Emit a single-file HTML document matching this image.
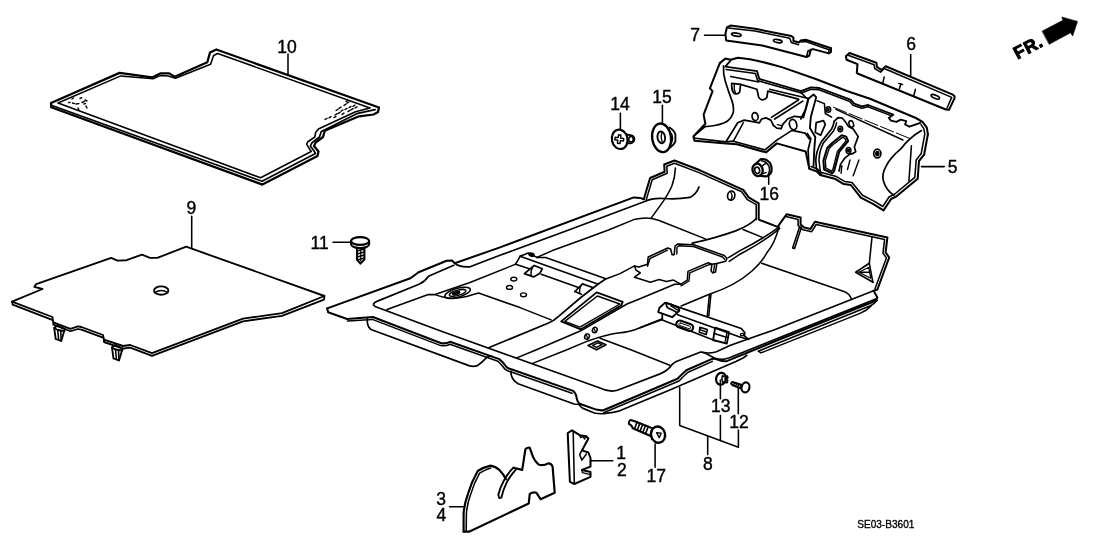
<!DOCTYPE html>
<html lang="en"><head><meta charset="utf-8"><title>SE03-B3601 Floor Mat</title>
<style>
html,body{margin:0;padding:0;background:#fff;}
body{width:1108px;height:553px;overflow:hidden;font-family:"Liberation Sans",sans-serif;}
svg{display:block;will-change:transform;}
svg text{font-family:"Liberation Sans",sans-serif;}
</style></head><body>
<svg width="1108" height="553" viewBox="0 0 1108 553" fill="none" stroke="#000" stroke-linecap="round" stroke-linejoin="round">
<path d="M51 103 L119.6 72.9 L152 77.4 L160.3 73.4 L169.3 73.4 L174.7 76.7 L207.3 62.2 L210 52.6 L216.3 49.5 L379 107.5 L378 112 L373.6 114.5 L359 116.3 L324.8 130.7 L323 137 L315.7 142.5 L314 146 L318.5 151.5 L317.5 156 L262.4 184.6 L51.2 107.2Z" stroke-width="2.25" fill="none"/>
<path d="M58 103 L120.8 75.9 L153.1 78.8 L160.2 75.6 L168.4 75.9 L175.4 78.3 L210.6 64.3 L213.6 55.5 L217.7 53.5 L370 107.9 L355.5 111.8 L318.4 129 L315.7 132.5 L314.8 137 L307.6 142 L306.7 144.3 L311.2 151.5 L260.6 177.8Z" stroke-width="1.55" fill="none"/>
<path d="M52 105.5 L262 181.2 L315.5 153.6 L314.6 151.8 L310.4 146 L311.8 143 L319.4 137 L321.4 131.4 L357.7 113.3 L375.1 109.6" stroke-width="1.71" fill="none"/>
<text x="287" y="52.5" font-size="17.5" text-anchor="middle" font-weight="normal" stroke="#000" stroke-width="0.4" fill="#000">10</text>
<path d="M288 54 L288 74" stroke-width="1.55" fill="none"/>
<path d="M68.5 102.5 L70.1 102.5" stroke-width="1.40" fill="none"/>
<path d="M72 99 L73.5 98" stroke-width="1.40" fill="none"/>
<path d="M72.5 103 L74.5 103.6" stroke-width="1.40" fill="none"/>
<path d="M76 104 L79 103.6" stroke-width="1.40" fill="none"/>
<path d="M80 98.5 L81.8 97.7" stroke-width="1.40" fill="none"/>
<path d="M82 102.5 L84.4 101.3" stroke-width="1.40" fill="none"/>
<path d="M85 100 L87 101" stroke-width="1.40" fill="none"/>
<path d="M78 108 L78.8 109.6" stroke-width="1.40" fill="none"/>
<path d="M86 106 L87 108" stroke-width="1.40" fill="none"/>
<path d="M84 104 L85.6 103.4" stroke-width="1.40" fill="none"/>
<path d="M325 119.5 L327 118.3" stroke-width="1.40" fill="none"/>
<path d="M329 117.8 L331 116.6" stroke-width="1.40" fill="none"/>
<path d="M335 115 L337 113.8" stroke-width="1.40" fill="none"/>
<path d="M338 113.6 L340 112.4" stroke-width="1.40" fill="none"/>
<path d="M341 111.2 L343 110" stroke-width="1.40" fill="none"/>
<path d="M345 109.6 L347 108.4" stroke-width="1.40" fill="none"/>
<path d="M349 107.6 L351 106.4" stroke-width="1.40" fill="none"/>
<path d="M353 106.4 L355 105.2" stroke-width="1.40" fill="none"/>
<path d="M336 110.5 L338 109.3" stroke-width="1.40" fill="none"/>
<path d="M339 108.4 L341 107.2" stroke-width="1.40" fill="none"/>
<path d="M344 105.4 L346 104.2" stroke-width="1.40" fill="none"/>
<path d="M347 103.2 L349 102" stroke-width="1.40" fill="none"/>
<path d="M351 109.8 L353 108.6" stroke-width="1.40" fill="none"/>
<path d="M355 108 L357 106.8" stroke-width="1.40" fill="none"/>
<path d="M334 117.6 L336 116.4" stroke-width="1.40" fill="none"/>
<path d="M342 114.4 L344 113.2" stroke-width="1.40" fill="none"/>
<path d="M346 101.6 L348 100.4" stroke-width="1.40" fill="none"/>
<path d="M348 111.6 L350 110.4" stroke-width="1.40" fill="none"/>
<path d="M12 301.6 L42.5 289 L34.4 286.8 L36.2 284.1 L111.2 257.9 L117.5 260.6 L126.6 260.2 L142 254.6 L150 257.9 L157.3 257.9 L186.2 246.7 L324.4 296 L282 313.2 L243 318.6 L152 353.2 L130.2 345 L123 346 L104 339.6 L103 335 L81.4 327 L77.8 326.4 L70.5 328.8 L53.3 322.4 L52.4 317Z" stroke-width="1.86" fill="none"/>
<path d="M12 301.6 L12.7 304.6 L51.5 319.7" stroke-width="1.86" fill="none"/>
<path d="M53.3 322.4 L53.3 324.6 L70.5 331.2 L77.8 329 L81.4 329.6 L103 337.6" stroke-width="1.71" fill="none"/>
<path d="M104 339.6 L104 342 L123 348.6 L130.2 347.6 L152 355.9 L243 321.3 L282 315.9 L324 299.6 L324.4 296" stroke-width="1.86" fill="none"/>
<ellipse cx="161.2" cy="290.6" rx="7.2" ry="4.2" stroke-width="1.86" fill="none"/>
<path d="M155 292.5 Q161 288.5 167.5 292.3" stroke-width="1.55" fill="none"/>
<text x="191.3" y="213.8" font-size="17.5" text-anchor="middle" font-weight="normal" stroke="#000" stroke-width="0.4" fill="#000">9</text>
<path d="M191.7 216.3 L191.7 247.4" stroke-width="1.55" fill="none"/>
<path d="M54.2 328 L55.7 339 L61.2 341 L64.2 331" stroke-width="1.86" fill="none"/>
<path d="M54.2 328 L57.2 325.5 L65.2 329 L64.2 331 L57.7 330 L54.2 328" stroke-width="1.86" fill="none"/>
<path d="M57.7 330 L58.7 340" stroke-width="1.55" fill="none"/>
<path d="M60.7 330.6 L61.2 341" stroke-width="1.55" fill="none"/>
<path d="M112 347.5 L113.5 358.5 L119 360.5 L122 350.5" stroke-width="1.86" fill="none"/>
<path d="M112 347.5 L115 345 L123 348.5 L122 350.5 L115.5 349.5 L112 347.5" stroke-width="1.86" fill="none"/>
<path d="M115.5 349.5 L116.5 359.5" stroke-width="1.55" fill="none"/>
<path d="M118.5 350.1 L119 360.5" stroke-width="1.55" fill="none"/>
<text x="319.7" y="249.2" font-size="17.5" text-anchor="middle" font-weight="normal" stroke="#000" stroke-width="0.4" fill="#000">11</text>
<path d="M333 242.2 L350.6 242.2" stroke-width="1.55" fill="none"/>
<ellipse cx="360.1" cy="241" rx="9" ry="3.9" stroke-width="2.17" fill="none"/>
<path d="M351.1 241.5 L351.1 244.2 A9 3.9 0 0 0 369.1 244.2 L369.1 241.5" stroke-width="2.17" fill="none"/>
<path d="M357 247.5 L357 259.5 L360.4 263.6 L364.4 259.5 L364.4 247.5" stroke-width="2.02" fill="none"/>
<path d="M357 251 L364.4 249" stroke-width="1.55" fill="none"/>
<path d="M357 254 L364.4 252" stroke-width="1.55" fill="none"/>
<path d="M357 257 L364.4 255" stroke-width="1.55" fill="none"/>
<path d="M357 260 L364.4 258" stroke-width="1.55" fill="none"/>
<path d="M360.7 248 L360.7 261" stroke-width="1.24" fill="none"/>
<path d="M327.2 308.4 L410.4 278.3 L418.6 272.2 L446.6 260.8 L452 260.6 L454.7 263.2 L500 247.4 L633.8 197.4 L640.1 197.9 L643.8 199.2" stroke-width="2.02" fill="none"/>
<path d="M454.7 263.2 Q459 267.5 470 266.8 L500 255.3 L568.7 230 L644.7 201.5 Q653 197.6 663.7 198.5 Q677 199.6 689.9 197.4 Q696.5 194 699 187" stroke-width="1.71" fill="none"/>
<path d="M453.8 265.3 L428.5 276.2 Q425 281.5 419 284.2 L379.4 300.4 Q369.4 304 376.4 307 L440 330.8 L600 388 Q606 391 612 391.2 Q616 391 622 388.5 L660 373.9 Q668 370.5 671.9 364.7 Q674 362.5 676.3 361.5 L700.1 352.2 Q702.5 351.9 705 353 L715.3 358.4 Q720 359.8 724 359.2 L729.4 357.7 L876.3 298.9" stroke-width="1.71" fill="none"/>
<path d="M873.6 290.8 L773.9 330 L730.5 345.2 L716.4 351.7 Q710 353.6 704 352.7" stroke-width="1.71" fill="none"/>
<path d="M873.6 290.8 L877.4 297.6 L876.3 299.6" stroke-width="2.02" fill="none"/>
<path d="M327.2 308.4 L328.1 312.3 L347.1 319 L372.9 317 L441.3 343.2 Q446 343.9 450.1 341.8 L499.3 359.1 Q503 362 506.5 367 Q508 368.5 512 369.5 L573.1 390.9 Q576 393 576.8 398.6 Q577.6 403 581 404.2 L596.2 409.6 Q600 410.6 603.4 410.3 L677.5 378.8 Q681 375 686.3 370.2 L712.1 358.9 Q715 358.6 717.5 359.6 Q722.5 361.8 727.3 360.9 L780 339.2 L877 300.2" stroke-width="2.02" fill="none"/>
<path d="M347.5 321 L372.3 319.4 L440.8 345.6 Q446 346.4 449.9 344.2 L497.9 361.2 Q501.6 364.6 505 369.2 Q507 371 510.6 371.8 L572 393.2" stroke-width="1.55" fill="none"/>
<path d="M603.6 412.7 L679 381 Q682.6 377.2 687.6 372.5 L712.4 361.4" stroke-width="1.55" fill="none"/>
<path d="M579.4 404.6 Q580.5 407 583 408.4 L594.4 413 Q600.5 414.4 607 413.2 Q613 412.6 619.7 410.8 L669.8 390 L735.9 361.5 L743.5 357.7 L746.8 355.3" stroke-width="1.71" fill="none"/>
<path d="M876.5 300.5 Q874.5 304 870.5 305.8 L758.2 351.2 L760.9 352.9 L860 313.4 Q867 310.5 871.5 305.4" stroke-width="1.55" fill="none"/>
<path d="M367.4 318.5 Q366.5 326 371 329.5 L468.9 365.6 Q473 367 477.5 365.6 Q482 362.5 486.3 357.9 Q488.5 356 491 355.8" stroke-width="1.71" fill="none"/>
<path d="M510.9 371.2 Q510.5 379 518.1 383.7 L574 404 L578.4 404.4" stroke-width="1.71" fill="none"/>
<path d="M643.8 199.2 L650.1 178 L664.6 171.7 L664.2 164.5 L674.5 160.5 L700 170.3 L743.3 189.8 L748.7 197.4 L758.7 203.3 L758.7 219.6 L777.6 226.9 L786.7 214.2 L800.6 217.4 L800.6 224.4 L804.2 227.5 L810.5 228.9 L815 221.7 L887.4 237.6 L885.6 252.4 L889.2 257.5 L877.4 289.5 L873.6 290.8" stroke-width="2.02" fill="none"/>
<path d="M646.2 199.9 L652.2 179.8 L667.2 173.3 L666.8 166.2 L674.5 163.2 L699 172.6 L741.7 191.8 L747 199.3 L756.2 204.7 L756.2 219.6" stroke-width="1.55" fill="none"/>
<path d="M786.1 216.6 L798.1 219.4 L798.1 225.5 L803 229.8 L811.7 231.7 L816.2 224.5 L884.6 239.6 L883 253.1 L886.4 257.9 L875.1 288.6" stroke-width="1.55" fill="none"/>
<path d="M675.4 168.1 Q675 178 671.8 186.2 Q668.5 193.5 663.7 200.6 L651 218.4" stroke-width="1.55" fill="none"/>
<ellipse cx="731.2" cy="195.6" rx="3.6" ry="4.6" stroke-width="1.71" fill="none" transform="rotate(12 731.2 195.6)"/>
<path d="M730.4 191.6 Q733.4 195.5 731 199.8" stroke-width="1.40" fill="none"/>
<path d="M536.9 257.4 L552.4 250.6 L581.4 240 L608.5 230 L633.8 219.6 Q643 217.3 651.9 218.4 Q656 219.2 659.1 220.5 L705.4 238.9" stroke-width="1.55" fill="none"/>
<path d="M435.7 294.2 L470 282.5 L515.2 264.4" stroke-width="1.55" fill="none"/>
<path d="M387 309.6 L428.3 294.6 L435.2 294.6 Q441.7 297.3 452.5 298.6 Q463.4 297.8 470.6 295.3 L478.6 293.1 L520 307.6 L551.1 319.9" stroke-width="1.55" fill="none"/>
<ellipse cx="457.6" cy="292.8" rx="13.2" ry="4.4" stroke-width="1.55" fill="none" transform="rotate(-16 457.6 292.8)"/>
<ellipse cx="457.6" cy="292.9" rx="8.6" ry="2.6" stroke-width="1.40" fill="none" transform="rotate(-16 457.6 292.9)"/>
<ellipse cx="456.2" cy="293.3" rx="3.6" ry="1.3" stroke-width="1.55" fill="#000" transform="rotate(-16 456.2 293.3)"/>
<path d="M692.3 243.2 Q716 238 735.7 230.9 Q751 224.5 756 218.7" stroke-width="1.71" fill="none"/>
<path d="M743 229.5 L763 237.6" stroke-width="1.55" fill="none"/>
<path d="M778.9 227.1 Q763 239 740 250.6 L728.5 257.7" stroke-width="1.55" fill="none"/>
<path d="M779.6 228.6 Q764 241.6 740 254.2 L729.2 261.3" stroke-width="1.55" fill="none"/>
<path d="M778.9 227.1 Q775 243 767.1 252.4 Q762 262 752 271 Q735 286 708.7 294.5 L681.2 306" stroke-width="1.55" fill="none"/>
<path d="M761.7 263.3 L844.7 291.7 Q850 294 851.5 299.3" stroke-width="1.55" fill="none"/>
<path d="M801.5 227.1 L794.6 248.5 L792.6 247.9 L799.7 226.5" stroke-width="1.55" fill="none"/>
<path d="M872 237.1 L869.3 263.3 L872.9 282.3" stroke-width="1.55" fill="none"/>
<path d="M869.3 263.3 L855.7 272.3 L872.9 282.3" stroke-width="1.71" fill="none"/>
<path d="M859 272.3 L869.6 272.3" stroke-width="1.40" fill="none"/>
<path d="M859 272.3 L868.8 267.3 L869.6 272.3 L870.8 278.3 L859 272.3" stroke-width="1.24" fill="none"/>
<path d="M536.9 257.4 L545.6 257.4 L605.2 278.5" stroke-width="1.55" fill="none"/>
<path d="M520.1 256.3 L597.6 283.9" stroke-width="1.55" fill="none"/>
<path d="M520.1 256.3 L528.2 253 L536.9 257.4" stroke-width="1.55" fill="none"/>
<ellipse cx="531.5" cy="254.7" rx="2.6" ry="1.5" stroke-width="1.55" fill="#000" transform="rotate(20 531.5 254.7)"/>
<path d="M520.1 256.3 L517.4 261.2 L515.2 264.4" stroke-width="1.55" fill="none"/>
<path d="M516.3 264.4 L529.3 268.8" stroke-width="1.55" fill="none"/>
<path d="M541.2 274.2 L579.2 287.7" stroke-width="1.55" fill="none"/>
<path d="M524.4 273.6 L534.2 265.5 L542.3 268.8 L539.6 273.6 L533.6 276.9 L524.4 273.6" stroke-width="1.71" fill="none"/>
<path d="M532.6 267.2 Q530.5 271 531 275.5" stroke-width="1.40" fill="none"/>
<path d="M574.9 291.5 L582.5 283.9 L593.3 287.7" stroke-width="1.71" fill="none"/>
<path d="M574.9 291.5 L581.4 294.2" stroke-width="1.71" fill="none"/>
<path d="M581 285.5 Q579 289.5 579.5 293.2" stroke-width="1.40" fill="none"/>
<ellipse cx="513.8" cy="279.1" rx="3" ry="1.9" stroke-width="1.40" fill="none"/>
<ellipse cx="509.5" cy="287.4" rx="3" ry="1.9" stroke-width="1.40" fill="none"/>
<ellipse cx="523.5" cy="294.8" rx="3" ry="1.9" stroke-width="1.40" fill="none"/>
<path d="M605.2 279.2 L597.6 284.5 L580.8 297.5 L558 316.8 Q554 320.6 548 323.2 L489.2 347.5" stroke-width="1.71" fill="none"/>
<path d="M605.2 279.2 L620 273.6 L634.5 265.9" stroke-width="1.55" fill="none"/>
<path d="M634.5 265.9 L638.8 267.1 L647.5 264.2 L648.2 257 L667.7 248 L670.6 249 L672.1 254.8 L674.2 254.8 L675 246.1 L677.9 243.9 L693.8 244.7 L724.2 255.5 L727 258.4 L725.6 261.3 L716.9 263.5 L715.5 272.1 L712.6 272.9 L711.1 270.7 L711.9 264.2 L708.2 262.7 L688 271.4 L687.3 280.1 L680.8 284.2 L673.5 280.1 L666.3 281.5 L659.1 279.4 L650.4 282.3 L634.5 277.2 L640.3 272.9 L635.9 270Z" stroke-width="1.55" fill="none"/>
<path d="M647.5 266.2 L650 258.5 L667.5 250.2" stroke-width="1.40" fill="none"/>
<path d="M676.8 254 L677 247.2 L679 245.8 L693.5 246.5 L722.5 257 L724.6 259.3" stroke-width="1.40" fill="none"/>
<path d="M716.9 263.5 L708.5 264.8 L689.8 272.8 L689 281 L681 285.8" stroke-width="1.40" fill="none"/>
<path d="M713.6 271.5 L714.6 264.5" stroke-width="1.40" fill="none"/>
<path d="M680.8 284.2 L674.7 284.3 L640 298.8 L627 304 L580.8 330.8 L535.9 350 L516.7 357.9" stroke-width="1.55" fill="none"/>
<path d="M661.7 319 L640 327.7 Q630 332 618 333 Q606.8 334.4 588 340.9 L566.3 350 L532.6 363.4" stroke-width="1.55" fill="none"/>
<ellipse cx="594.8" cy="330" rx="2.3" ry="2.8" stroke-width="1.55" fill="none" transform="rotate(20 594.8 330)"/>
<ellipse cx="587" cy="336.5" rx="2.3" ry="2.8" stroke-width="1.55" fill="none" transform="rotate(20 587 336.5)"/>
<path d="M593.8 328 L595.6 332" stroke-width="1.24" fill="none"/>
<path d="M586 334.5 L587.8 338.5" stroke-width="1.24" fill="none"/>
<path d="M600 338.2 L631.4 350 L669.8 365.3" stroke-width="1.55" fill="none"/>
<path d="M561.2 321.4 L596.7 292.4 L622.7 301.8 L621.3 305.4 L580.8 329.3Z" stroke-width="1.86" fill="none"/>
<path d="M564.8 321.4 L597.4 296 L619.8 304 L580 327.1Z" stroke-width="1.40" fill="none"/>
<path d="M588 345.5 L597.5 341 L606 344.8 L596.5 349.8Z" stroke-width="1.71" fill="none"/>
<path d="M592.5 345.3 L598 342.8 L602 344.6 L596.5 347.4Z" stroke-width="1.40" fill="none"/>
<path d="M666 302.9 L741.3 328.5 L744.9 332.8 L744.2 335.7 L748.5 339.3" stroke-width="1.71" fill="none"/>
<path d="M658.2 312.1 L659.5 307.7 L665.2 302.6 L671.5 304.5 L678.5 307.7 L679.4 310.8 L677.2 312.7 L672.2 317.2Z" stroke-width="1.86" fill="none"/>
<path d="M666.1 303.9 Q666.5 306.5 667.7 307.7 L675.3 311.5 L677.2 312.7" stroke-width="1.71" fill="none"/>
<path d="M670.9 305.8 L677.8 310.2" stroke-width="1.40" fill="none"/>
<path d="M662.3 314 L662.3 319.6" stroke-width="1.71" fill="none"/>
<path d="M677.6 314.7 L739.8 337.1" stroke-width="1.55" fill="none"/>
<path d="M661.7 319.8 L715.2 340.8" stroke-width="1.55" fill="none"/>
<rect x="676" y="322.3" width="17.5" height="7" rx="3.5" transform="rotate(19.5 684.8 325.8)" stroke-width="2.1"/>
<rect x="678.6" y="324.6" width="12.4" height="2.6" rx="1.3" transform="rotate(19.5 684.8 325.8)" stroke-width="0.9"/>
<path d="M699.8 327.2 L707.3 329.6 L706.2 334.6 L699.3 332.3Z" stroke-width="1.55" fill="none"/>
<path d="M700 329.6 L706.6 332" stroke-width="1.40" fill="none"/>
<path d="M715.2 327.7 L729 332.1 L726.8 343.7 L713.1 340Z" stroke-width="1.86" fill="none"/>
<path d="M714.2 333.6 L728 337.8" stroke-width="1.55" fill="none"/>
<path d="M727 331.8 L724.8 343" stroke-width="1.24" fill="none"/>
<ellipse cx="742.2" cy="334.6" rx="1.8" ry="1.2" stroke-width="1.40" fill="none"/>
<path d="M739.8 337.1 L748.5 339.3" stroke-width="1.55" fill="none"/>
<path d="M709.4 294.5 L707.3 315.4" stroke-width="1.55" fill="none"/>
<path d="M710.9 294.5 L708.8 316" stroke-width="1.55" fill="none"/>
<path d="M640 327.7 L661.7 319.8" stroke-width="1.55" fill="none"/>
<path d="M719.8 63.1 L725.3 58.6 L730.7 59.8 L737.9 57.7 L750 59.2 Q766 62.5 782.5 67.4 L815.1 78.8 L847.6 91.2 L870 98.8 L915.9 118 L922.5 121.8 L926.8 127.7 L927.9 134.2" stroke-width="2.02" fill="none"/>
<path d="M719.8 63.1 L709.9 88.4 L712.6 91.1 L703.6 114.6 L705.4 123.7 L693.6 136.2 L694.5 140.7 L726.2 143.4 L737 144.3 L766 152.4 L776.8 143.4 L805.7 151.5 L809.3 168.7 L816.6 171.4 L820.2 175 L834.7 178.7 L843.7 184.1 L850.9 185 L860.8 197.7 L873.4 204.1 L883.5 210.4 L891.1 199 L896.2 196.5 L917.7 178.7 L919 161 L924.1 154.7 L927.9 134.2" stroke-width="2.02" fill="none"/>
<path d="M811 166.5 L817.5 169 L821.5 172.6 L835.5 176.2 L844.5 181.4 L852 182.4 L862.5 195.3 L874.5 201.4 L882.8 206.5 L889 197 L894.8 194 L914.8 177.4 L916.2 160 L921.2 153.6 L924.8 134 L923.8 128.6 L921 124.6" stroke-width="1.55" fill="none"/>
<path d="M730.9 60.2 L725.3 66.7 L757.1 71.2 L759.2 78.8 L801 91.2 L810.8 87.4 L819.4 88 L850.9 99.9 L854.2 103.7 L861.8 106.4 L868.2 105 L893.2 114.7 L888.8 118 L891 120.7 L896.4 121.8 L900.8 119.6 L906.2 121.2 L905.1 124.5 L909.4 126.7 L920.3 122.9" stroke-width="1.86" fill="none"/>
<path d="M726.2 69.4 L755.4 73.6 L757.6 80.6 L801.4 93 L811 89.2 L819 89.8 L849.8 101.5 L853 105.2 L861.8 108.3 L868 106.8 L890.2 115.4" stroke-width="1.55" fill="none"/>
<path d="M801.4 93 L805.7 97.4 L808.4 99.2" stroke-width="1.55" fill="none"/>
<path d="M730.7 76.6 L758.7 82.1" stroke-width="1.55" fill="none"/>
<path d="M723.5 65.8 Q723 74 725.3 81.2 Q728 90 730.7 97.4 Q734 105 733.4 111.9 Q731 120 724.4 122.8 Q715 126.5 704.5 126.6" stroke-width="1.71" fill="none"/>
<path d="M693.6 136.2 L704.5 127.1" stroke-width="1.71" fill="none"/>
<path d="M731.6 83.4 L740.6 84.4 L739.7 92 Q738 94.5 735 93.8 Q732.5 92.5 731.8 88 Z" stroke-width="1.71" fill="none"/>
<path d="M734.3 84.5 Q733.5 89 735.5 93" stroke-width="1.40" fill="none"/>
<path d="M740.6 84.4 L756.9 89.3 L758.7 97.4 Q760.5 100.2 762.8 99.8 Q765.5 99.3 766.9 97.4 L767.8 91.1 L798.5 99.2" stroke-width="1.71" fill="none"/>
<path d="M769.6 89.3 L807.5 98.3" stroke-width="1.55" fill="none"/>
<ellipse cx="755.1" cy="116.6" rx="3" ry="4" stroke-width="1.71" fill="none" transform="rotate(-12 755.1 116.6)"/>
<ellipse cx="793.1" cy="124.6" rx="3.6" ry="5.2" stroke-width="1.71" fill="none" transform="rotate(-15 793.1 124.6)"/>
<path d="M798.5 100 L771.4 117.4" stroke-width="1.71" fill="none"/>
<path d="M802.8 101.1 L774.6 119" stroke-width="1.71" fill="none"/>
<path d="M726.3 141.2 L737.7 122.8 L744.2 120.1 L759.4 122.8 L761.6 119 L766 117.9 L770.8 120.1 L773.5 125.5 L776.8 128.2 L781.1 128.7 L782.8 124.4 L787.6 119 L794.2 116.3 L803.4 117.4 L807.2 104.3 L808.4 99.2" stroke-width="1.71" fill="none"/>
<path d="M743.2 122.8 L733.4 141.2" stroke-width="1.55" fill="none"/>
<path d="M777.4 124.6 L781.6 125.6" stroke-width="1.40" fill="none"/>
<path d="M693.3 138 L725.8 141.8 L733.4 141.2 L764.9 149.9 L776.8 140.1 L792 130.4 L805 133.1 L809.3 138.9" stroke-width="1.71" fill="none"/>
<path d="M800.8 118.9 L805.4 109.9 L808.1 99 L813.5 94.5 L816.2 97.2 L810.8 117.1 L809.9 128 L815.3 137 L814.4 147.9 L813.5 166" stroke-width="1.86" fill="none"/>
<path d="M807.2 133.4 L810.8 138.8 L808.1 149.7 L809 167.8" stroke-width="1.71" fill="none"/>
<path d="M816.2 122.6 L823.5 120.7 L825.3 124.4 L820.7 135.2 L815.3 132.5Z" stroke-width="1.71" fill="none"/>
<path d="M834.2 121.4 L838 117.6 L842.4 118.2 L845.6 122 L848.4 126.4 L853.2 129 L858.2 136.6 L854.4 146.7 L855.7 151.8 L852.5 153.7 L849.4 154.3 L844.3 158.7 L840.5 164.4 L839 171" stroke-width="1.71" fill="none"/>
<path d="M834.2 121.4 Q833.5 125.5 831.6 129 L821.5 141.6 Q816 151 815.8 160.6 L816.5 169.5 L821.5 174.6" stroke-width="1.71" fill="none"/>
<path d="M836.6 122.8 Q835.8 127 833.5 130.9 L823.4 142.9 Q819 152 819 160.6 L820.3 170.8" stroke-width="1.55" fill="none"/>
<path d="M841.8 135.3 L846.2 136.6 L848.1 141 L839.2 151.8 L834.2 170.8 L832.3 173.3 L824.1 169.5 L823.4 160.6 L827.2 148 L831.6 143.5 Z" stroke-width="2.02" fill="none"/>
<path d="M842.4 137.4 L844.9 138.3 L846 141 L837.3 151.8 L832.9 169.5 L831.6 171.2 L825.9 168.2 L825.3 160.6 L829.1 148.6 L832.9 144.8 Z" stroke-width="1.40" fill="none"/>
<ellipse cx="828.3" cy="109.5" rx="2.4" ry="2.8" stroke-width="1.55" fill="none"/>
<ellipse cx="828.3" cy="109.5" rx="0.9" ry="1.2" stroke-width="1.24" fill="#000"/>
<ellipse cx="840.3" cy="129" rx="2.3" ry="2.7" stroke-width="1.55" fill="none"/>
<ellipse cx="840.3" cy="129" rx="0.9" ry="1.2" stroke-width="1.24" fill="#000"/>
<ellipse cx="851.3" cy="123.9" rx="2.2" ry="3.3" stroke-width="1.55" fill="none" transform="rotate(-20 851.3 123.9)"/>
<ellipse cx="848.5" cy="150.5" rx="2.4" ry="3" stroke-width="1.55" fill="none"/>
<ellipse cx="848.5" cy="150.5" rx="1" ry="1.4" stroke-width="1.24" fill="#000"/>
<ellipse cx="877.3" cy="153.6" rx="3.6" ry="4.4" stroke-width="1.71" fill="none"/>
<ellipse cx="877.3" cy="153.6" rx="1.6" ry="2.2" stroke-width="1.40" fill="#000"/>
<path d="M850 160 L847.5 169.5" stroke-width="1.40" fill="none"/>
<path d="M858.9 160 L853.2 175.8" stroke-width="1.40" fill="none"/>
<path d="M841.8 165.7 L841.1 173.3" stroke-width="1.40" fill="none"/>
<path d="M817.1 100.8 L824.4 103.6 L825.3 113.5 L831.6 117.1" stroke-width="1.55" fill="none"/>
<path d="M833.4 107.2 L911 139" stroke-width="1" stroke-dasharray="14 3"/>
<path d="M836 109.4 L902.9 140" stroke-width="1.55" fill="none"/>
<path d="M921.5 130.6 Q909 138 901.3 148.4 Q890 158 886.1 166.1 Q881.5 174 883.5 181.3 Q886 190 893.7 195.2" stroke-width="1.71" fill="none"/>
<path d="M911.4 145.8 L908.9 181.3" stroke-width="1.55" fill="none"/>
<text x="952.5" y="172.6" font-size="17.5" text-anchor="middle" font-weight="normal" stroke="#000" stroke-width="0.4" fill="#000">5</text>
<path d="M921.5 166.6 L944.3 166.6" stroke-width="1.55" fill="none"/>
<path d="M726.9 27.4 L730.5 25.6 L755.1 28.8 L791.3 36 L793.4 37.5 L793.4 41.1 L799.2 42.5 L800.7 40.4 L805.7 39.7 L831 48.3 L831 52 L828.9 53.4 L813 49.1 L810.8 49.8 L809.3 55.6 L806.5 57 L762.3 45.4 L726.2 40.4 L725.4 33.9Z" stroke-width="2.02" fill="none"/>
<path d="M728.3 28.1 L755 31 L789.8 38.2 L791.3 42.5 L798.5 44.7" stroke-width="1.55" fill="none"/>
<path d="M801.4 42.1 L805.7 41.6 L828.9 49.8 L831 48.3" stroke-width="1.55" fill="none"/>
<path d="M828.9 49.8 L828.9 53.4" stroke-width="1.55" fill="none"/>
<path d="M806.5 57 L808 51 L810.8 49.8" stroke-width="1.55" fill="none"/>
<ellipse cx="736.3" cy="34.6" rx="4.8" ry="1.5" stroke-width="1.71" fill="none" transform="rotate(8 736.3 34.6)"/>
<ellipse cx="777.8" cy="41.1" rx="4.4" ry="1.5" stroke-width="1.71" fill="none" transform="rotate(11 777.8 41.1)"/>
<text x="695" y="41.2" font-size="17.5" text-anchor="middle" font-weight="normal" stroke="#000" stroke-width="0.4" fill="#000">7</text>
<path d="M704.5 35.3 L725.4 35.3" stroke-width="1.55" fill="none"/>
<path d="M845.9 56.2 L849.5 53 L876.3 62.7 L877 67 L881.4 69.9 L885.7 66.3 L952.8 94.6 L954.5 96.3 L954.5 98.4 L949 109.8 L945.8 109.5 L857.5 73.5 L856.8 72.8 L857.5 64.1 L846.6 59.8Z" stroke-width="2.02" fill="none"/>
<path d="M848.8 55.4 L874.1 64.8 L874.8 68.5 L880.6 72.1 L884.2 68.5 L951.7 97.4 L946.9 108.2" stroke-width="1.55" fill="none"/>
<path d="M884.2 77.1 L882.8 82.9" stroke-width="1.55" fill="none"/>
<path d="M900.9 83.7 L899.4 88.7" stroke-width="1.55" fill="none"/>
<path d="M915.4 89.4 L913.9 95.2" stroke-width="1.55" fill="none"/>
<path d="M898.8 83.4 L902.6 84.6" stroke-width="1.40" fill="none"/>
<ellipse cx="935.3" cy="96.8" rx="4.5" ry="1.6" stroke-width="1.71" fill="none" transform="rotate(22 935.3 96.8)"/>
<text x="911" y="49.8" font-size="17.5" text-anchor="middle" font-weight="normal" stroke="#000" stroke-width="0.4" fill="#000">6</text>
<path d="M910.7 54.4 L910.7 75.7" stroke-width="1.55" fill="none"/>
<text x="620" y="109.7" font-size="17.5" text-anchor="middle" font-weight="normal" stroke="#000" stroke-width="0.4" fill="#000">14</text>
<path d="M620.4 113.2 L620.4 129.1" stroke-width="1.55" fill="none"/>
<ellipse cx="619.7" cy="139.3" rx="7.8" ry="9.8" stroke-width="2.17" fill="none" transform="rotate(-12 619.7 139.3)"/>
<path d="M626.5 134.5 L631.5 135.3 Q634.6 136.5 634.4 139.5 Q634 142.6 630.8 143.4 L626.8 143.2" stroke-width="1.86" fill="none"/>
<ellipse cx="631" cy="139.2" rx="2.2" ry="2.8" stroke-width="1.55" fill="none"/>
<path d="M618.6 134.8 L621 135.2 L620.6 138 L623.8 138.6 L623.4 141 L620.4 140.6 L620 143.6 L617.4 143.2 L617.8 140.2 L614.8 139.8 L615.2 137.2 L618.2 137.6 Z" stroke-width="1.40" fill="none"/>
<text x="662" y="102.5" font-size="17.5" text-anchor="middle" font-weight="normal" stroke="#000" stroke-width="0.4" fill="#000">15</text>
<path d="M662.4 105.3 L662.4 122.9" stroke-width="1.55" fill="none"/>
<ellipse cx="661.6" cy="137.8" rx="9.4" ry="14.4" stroke-width="2.33" fill="none" transform="rotate(-8 661.6 137.8)"/>
<ellipse cx="661.3" cy="137.4" rx="3.8" ry="6" stroke-width="1.86" fill="none" transform="rotate(-8 661.3 137.4)"/>
<path d="M662.2 132.2 Q660 137 662.6 142.8" stroke-width="1.40" fill="none"/>
<path d="M669.5 127.5 Q674 130 675.4 134.2 L675.4 141.4 Q674 145.2 670 147.6" stroke-width="1.86" fill="none"/>
<path d="M671.4 133.6 Q673.4 137.5 671.6 142.6" stroke-width="1.55" fill="none"/>
<text x="769.2" y="200" font-size="17.5" text-anchor="middle" font-weight="normal" stroke="#000" stroke-width="0.4" fill="#000">16</text>
<path d="M768.7 174.8 L768.7 184.3" stroke-width="1.55" fill="none"/>
<ellipse cx="757.6" cy="169.9" rx="5" ry="6.3" stroke-width="2.33" fill="none" transform="rotate(-15 757.6 169.9)"/>
<ellipse cx="757.2" cy="170.3" rx="2.4" ry="3.2" stroke-width="1.55" fill="none" transform="rotate(-15 757.2 170.3)"/>
<path d="M755.6 164 L760.6 159.2 Q766 158.2 770 163 Q773 168.5 770.6 173.6 L766.6 176.4 L761 176" stroke-width="2.17" fill="none"/>
<path d="M761.5 160.8 Q766.5 161.5 768.8 166 Q770.5 170.5 768.4 174" stroke-width="1.55" fill="none"/>
<path d="M762.2 166 L765.4 163.6" stroke-width="1.40" fill="none"/>
<path d="M762.6 173.8 L766.2 172.4" stroke-width="1.40" fill="none"/>
<path d="M679.7 387.6 L679.7 425.6 L738.4 447.3 L738.4 430" stroke-width="1.55" fill="none"/>
<path d="M738.3 388.6 L738.3 413.8" stroke-width="1.55" fill="none"/>
<path d="M720.4 380 L720.4 398.8" stroke-width="1.55" fill="none"/>
<path d="M720.4 415.4 L720.4 440.6" stroke-width="1.55" fill="none"/>
<path d="M707.7 436.4 L707.7 454.5" stroke-width="1.55" fill="none"/>
<text x="707.9" y="470" font-size="17.5" text-anchor="middle" font-weight="normal" stroke="#000" stroke-width="0.4" fill="#000">8</text>
<text x="720.8" y="412.4" font-size="17.5" text-anchor="middle" font-weight="normal" stroke="#000" stroke-width="0.4" fill="#000">13</text>
<text x="739" y="427.6" font-size="17.5" text-anchor="middle" font-weight="normal" stroke="#000" stroke-width="0.4" fill="#000">12</text>
<ellipse cx="721" cy="378.8" rx="4.9" ry="6" stroke-width="2.17" fill="none" transform="rotate(12 721 378.8)"/>
<path d="M722.5 375.6 Q721 379 722.8 382.6" stroke-width="1.55" fill="none"/>
<path d="M723.5 376.4 L727.4 376 L727.8 378 L725 378.6 L727.6 380.2 L727.2 382.6 L723.6 382.2" stroke-width="1.71" fill="none"/>
<ellipse cx="745.5" cy="387.4" rx="3.9" ry="5" stroke-width="2.17" fill="none" transform="rotate(15 745.5 387.4)"/>
<path d="M741.6 385 L732.4 382 L731 383.4 L732.4 385.2 L741.2 388.6" stroke-width="1.86" fill="none"/>
<path d="M734.8 382.4 L733.4 385.8" stroke-width="1.40" fill="none"/>
<path d="M736.9 383.1 L735.5 386.5" stroke-width="1.40" fill="none"/>
<path d="M738.9 383.8 L737.5 387.2" stroke-width="1.40" fill="none"/>
<path d="M741 384.5 L739.6 387.9" stroke-width="1.40" fill="none"/>
<text x="656.3" y="481.9" font-size="17.5" text-anchor="middle" font-weight="normal" stroke="#000" stroke-width="0.4" fill="#000">17</text>
<path d="M655.1 444 L655.1 467.2" stroke-width="1.55" fill="none"/>
<ellipse cx="658" cy="434.6" rx="7" ry="8.2" stroke-width="2.33" fill="none" transform="rotate(-18 658 434.6)"/>
<path d="M652.2 430 Q650.4 434 651.8 439.4" stroke-width="1.55" fill="none"/>
<path d="M656.6 432.6 L661.2 433.2 L659.2 437.8 Z" stroke-width="1.40" fill="none"/>
<path d="M652.6 428.4 L634 421 L630.4 420 Q628.4 421.4 628.8 423.6 L631.4 425.6 L632.8 428.2 L650.6 436" stroke-width="2.02" fill="none"/>
<path d="M637.2 421.8 L634.6 428.6" stroke-width="1.55" fill="none"/>
<path d="M640 422.9 L637.4 429.7" stroke-width="1.55" fill="none"/>
<path d="M642.8 424.1 L640.2 430.9" stroke-width="1.55" fill="none"/>
<path d="M645.6 425.2 L643 432" stroke-width="1.55" fill="none"/>
<path d="M648.4 426.3 L645.8 433.1" stroke-width="1.55" fill="none"/>
<path d="M567.7 433 L572.1 430.4 L579.7 435.2 L586.2 436.3 L588.4 438.4 L581.9 450.4 L588.4 452.5 L590.5 458 L590.5 466.6 L581.9 469.9 L590.5 472.1 L590.5 476.8 L574.3 484 L569.9 481.8Z" stroke-width="2.02" fill="none"/>
<path d="M573.2 431.9 L574.3 482.9" stroke-width="1.55" fill="none"/>
<path d="M579.7 435.2 L580.6 437.6 L583 436.6 L584.6 439 L586.2 436.3" stroke-width="1.40" fill="none"/>
<path d="M581.9 450.4 L579.7 454.7 L581.9 460.1 L586.4 454" stroke-width="1.55" fill="none"/>
<path d="M581.9 469.9 L582.4 472.6 L590.5 474.6" stroke-width="1.40" fill="none"/>
<text x="621" y="458.7" font-size="17.5" text-anchor="middle" font-weight="normal" stroke="#000" stroke-width="0.4" fill="#000">1</text>
<text x="621.8" y="476.2" font-size="17.5" text-anchor="middle" font-weight="normal" stroke="#000" stroke-width="0.4" fill="#000">2</text>
<path d="M590.5 460.7 L612.8 460.7" stroke-width="1.55" fill="none"/>
<path d="M463.6 531.7 L463.6 513.3 Q464.5 503 468 493.8 Q471.5 482 477.7 471 Q484 467 490.7 465.6 Q495.5 466.5 499.4 469.9 Q503.5 474 505.9 479.2" stroke-width="2.17" fill="none"/>
<path d="M466.2 530.4 L466.4 513.6 Q467.2 503.6 470.6 494.6 Q474 483 479.6 473.2 Q485.4 469.4 490.7 467.9" stroke-width="1.55" fill="none"/>
<path d="M513.5 467.7 Q507.5 473.5 503.8 480.7 Q500 487.5 498.3 494.8 L499.4 498.1 L501.4 497.6 Q503.2 489.5 506.6 482.6 Q510.4 475.6 515.8 469.6" stroke-width="1.86" fill="none"/>
<path d="M513.5 467.7 L522.2 469.9 L525.4 449.3 Q527.6 447 529.8 447.8 L533 456.9 Q535 461.5 538.5 464.5 Q543 466.2 548.2 463.4 Q551.4 463.4 552.6 466.6 L554.7 492.7 L540.6 499.2 L536.3 492.7 Q533 491.6 529.8 493.8 L528.7 503.5 L469 531.7 L463.6 531.7" stroke-width="2.17" fill="none"/>
<text x="441" y="504.7" font-size="17.5" text-anchor="middle" font-weight="normal" stroke="#000" stroke-width="0.4" fill="#000">3</text>
<text x="441.3" y="521" font-size="17.5" text-anchor="middle" font-weight="normal" stroke="#000" stroke-width="0.4" fill="#000">4</text>
<path d="M449.5 506.8 L464.2 506.8" stroke-width="1.55" fill="none"/>
<path d="M1042.3 31.1 L1062.9 20.3 L1061.8 17 L1077.5 21.4 L1072.7 36 L1070.5 32.8 L1049.3 44.2 Z" fill="#000" stroke="#000" stroke-width="0.6"/>
<text x="1017.5" y="59.6" font-size="17.5" font-weight="bold" letter-spacing="0.8" stroke="#000" stroke-width="1.0" fill="#000" transform="rotate(-28 1017.5 59.6)">FR.</text>
<text x="857.2" y="527.8" font-size="11" textLength="57.2" lengthAdjust="spacingAndGlyphs" stroke="#000" stroke-width="0.35" fill="#000">SE03-B3601</text>
</svg>
</body></html>
